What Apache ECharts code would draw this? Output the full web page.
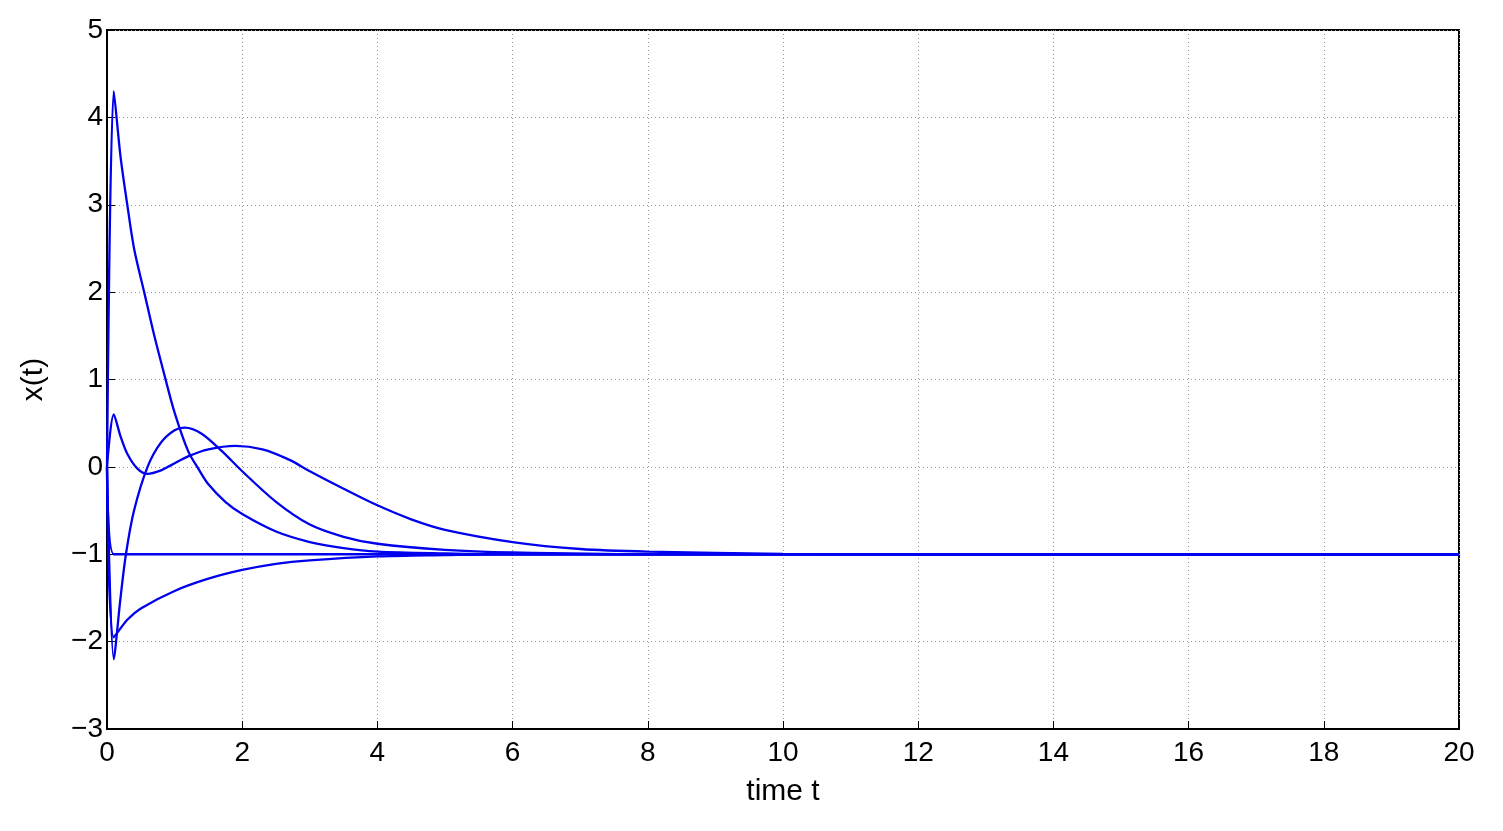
<!DOCTYPE html><html><head><meta charset="utf-8"><script src="https://cdn.jsdelivr.net/npm/echarts@6/dist/echarts.min.js"></script></head><body style="margin:0;background:#fff"><div id="c" style="width:1503px;height:831px"></div><script>
const xTicks=[0,2,4,6,8,10,12,14,16,18,20];
const yTicks=[-3,-2,-1,0,1,2,3,4,5];
const curveA=[[0,0],[0.1,4.3],[0.2,3.55],[0.3,3.0],[0.4,2.5],[0.55,2.0],[0.7,1.5],[0.85,1.05],[1,0.62],[1.2,0.18],[1.35,-0.02],[1.5,-0.2],[1.75,-0.4],[2,-0.54],[2.5,-0.74],[3,-0.86],[3.5,-0.93],[4,-0.97],[5,-0.99],[6,-1],[20,-1]];
const curveB=[[0,0],[0.1,0.6],[0.2,0.35],[0.3,0.15],[0.45,-0.02],[0.6,-0.08],[0.8,-0.04],[0.95,0.02],[1.2,0.12],[1.5,0.2],[1.9,0.24],[2.3,0.2],[2.7,0.08],[3,-0.05],[3.5,-0.25],[4,-0.44],[4.5,-0.6],[5,-0.72],[6,-0.86],[7,-0.94],[8,-0.97],[10,-0.995],[12,-1],[20,-1]];
const curveC=[[0,0],[0.1,-2.2],[0.2,-1.5],[0.28,-1.0],[0.4,-0.5],[0.6,0],[0.8,0.28],[1.0,0.42],[1.15,0.45],[1.4,0.38],[1.7,0.18],[2,-0.05],[2.5,-0.4],[3,-0.66],[3.5,-0.8],[4,-0.88],[5,-0.95],[6,-0.98],[8,-1],[20,-1]];
const curveD=[[0,0],[0.1,-1],[20,-1]];
const curveE=[[0,0],[0.1,-1.95],[0.3,-1.75],[0.5,-1.62],[1,-1.42],[1.5,-1.28],[2,-1.18],[2.5,-1.11],[3,-1.07],[4,-1.025],[5,-1.01],[6,-1],[20,-1]];
const ch=echarts.init(document.getElementById('c'));
const ser=[curveA,curveB,curveC,curveD,curveE].map(d=>({type:'line',data:d,showSymbol:false,smooth:0.3,lineStyle:{color:'#0000ee',width:2.3},itemStyle:{color:'#0000ee'}}));
const ax={axisLine:{show:true,onZero:false,lineStyle:{color:'#000',width:2}},axisTick:{inside:true,length:8,lineStyle:{color:'#000'}},splitLine:{show:true,lineStyle:{type:[1,3],color:'#999'}},axisLabel:{color:'#000',fontSize:28,fontFamily:'Liberation Sans'}};
ch.setOption({animation:false,grid:{left:107,right:44,top:30,bottom:102,show:true,borderColor:'#000',borderWidth:2},
xAxis:Object.assign({type:'value',min:0,max:20,interval:2,name:'time t',nameLocation:'middle',nameGap:48,nameTextStyle:{fontSize:30,color:'#000',fontFamily:'Liberation Sans'}},ax,{axisLabel:Object.assign({},ax.axisLabel,{margin:10})}),
yAxis:Object.assign({type:'value',min:-3,max:5,interval:1,name:'x(t)',nameLocation:'middle',nameGap:58,nameTextStyle:{fontSize:30,color:'#000',fontFamily:'Liberation Sans'}},ax,{axisLabel:Object.assign({},ax.axisLabel,{margin:4,formatter:v=>v<0?'\u2212'+(-v):''+v})}),
series:ser});
</script></body></html>
